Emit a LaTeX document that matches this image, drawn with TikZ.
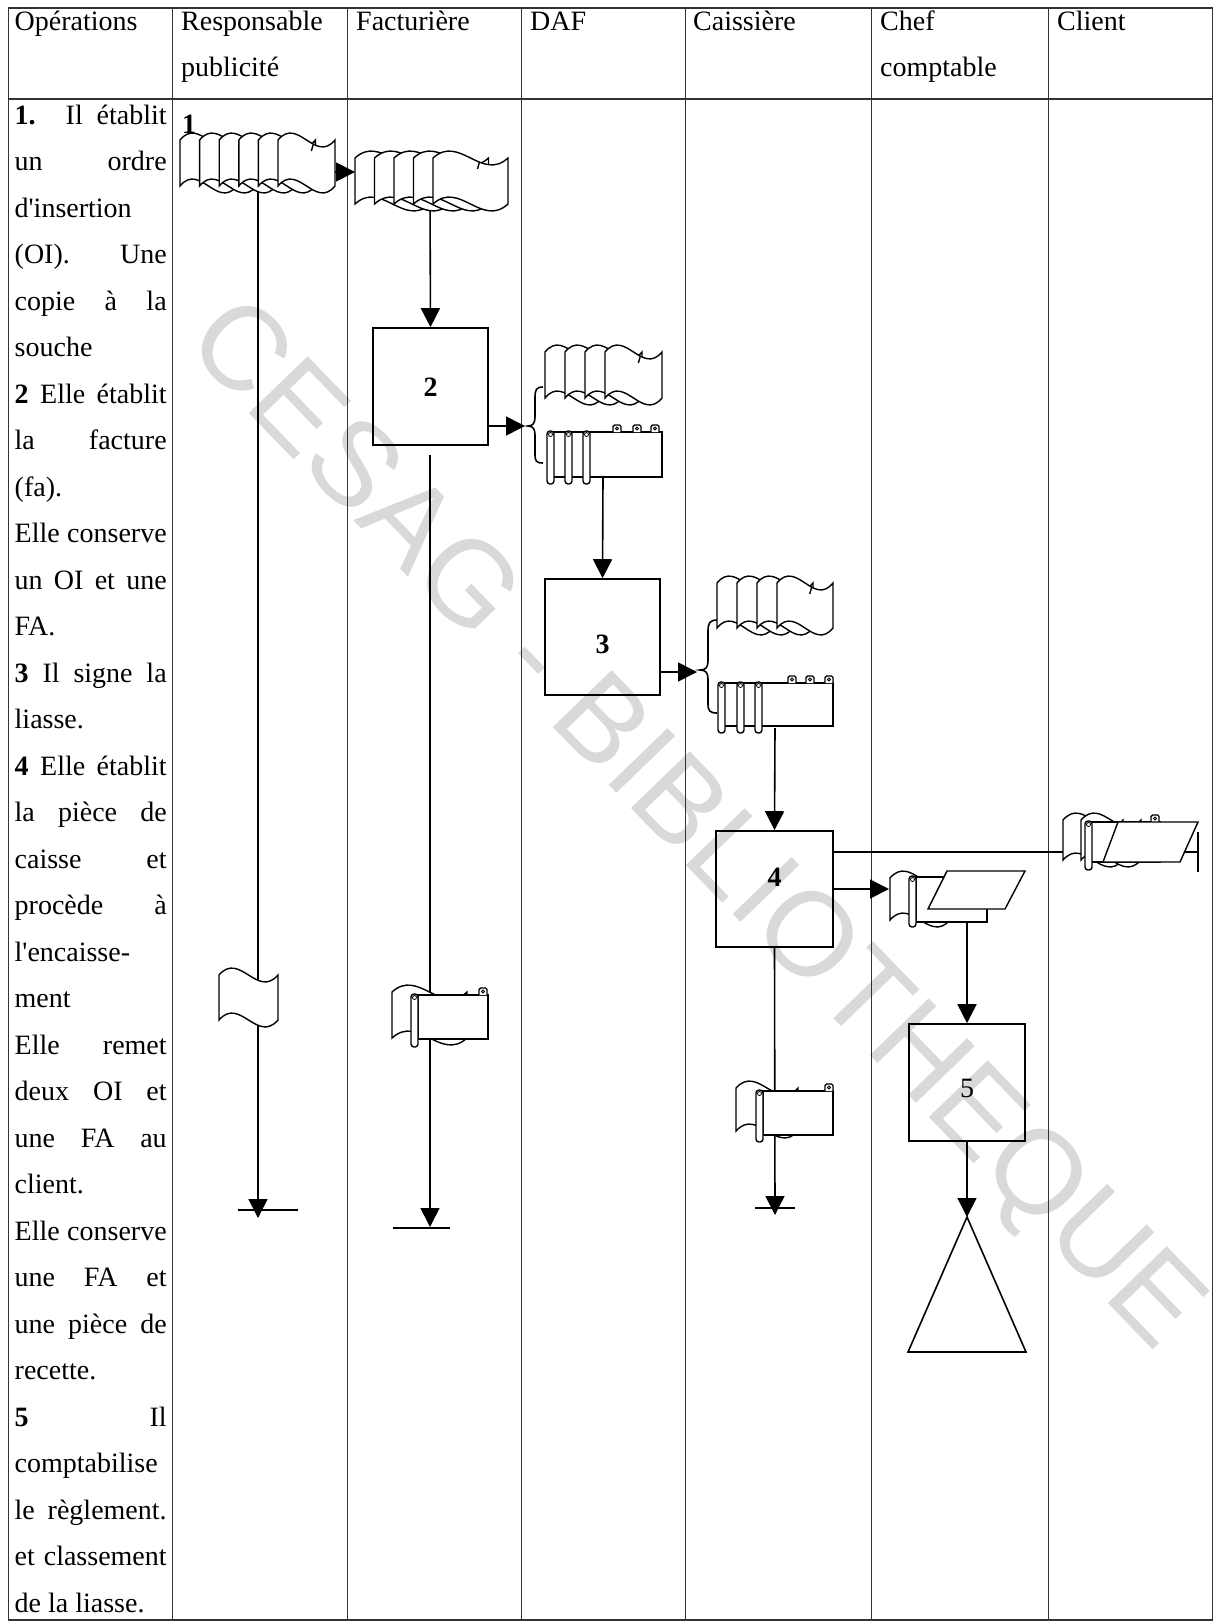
\documentclass[tikz,border=0pt]{standalone}
\usepackage{fontspec}
\setmainfont{Liberation Serif}
\newfontfamily\wmfont{Liberation Sans}
\usetikzlibrary{arrows.meta}

\newcommand\flagdoc[4]{% x y w h
  \filldraw[docline] ({#1},{#2}) -- ({#1},{#2+#4})
    .. controls ({#1+0.35*#3},{#2+#4-24}) and ({#1+0.65*#3},{#2+#4+24}) .. ({#1+#3},{#2+#4})
    -- ({#1+#3},{#2})
    .. controls ({#1+0.65*#3},{#2+24}) and ({#1+0.35*#3},{#2-24}) .. ({#1},{#2}) -- cycle;}
\newcommand\docstack[6]{% x y w h n dx
  \foreach \k in {1,...,#5}{\flagdoc{#1+(\k-1)*#6}{#2}{#3}{#4}}
  \draw[docline] ({#1+(#5-1)*#6+0.62*#3},{#2+4}) -- ++(-2,7);}
\newcommand\ledgerbox[4]{% x y w h
  \filldraw[docline] ({#1},{#2}) rectangle ({#1+#3},{#2+#4});}
\newcommand\ledgerring[3]{% x ytop ybottom
  \filldraw[docline, rounded corners=3pt] ({#1},{#2}) rectangle ({#1+7},{#3});
  \draw[line width=0.8pt] ({#1+3.5},{#2+3.5}) circle (2);}
\newcommand\ledgertab[2]{% xcenter ytop
  \filldraw[docline, rounded corners=1.5pt] ({#1-4},{#2}) -- ({#1-4},{#2-7}) -- ({#1+4},{#2-7}) -- ({#1+4},{#2});
  \draw[line width=0.8pt] ({#1},{#2-3.5}) circle (1.5);}
\newcommand\jstline[3]{\node[cell] (#1) at (14.5,#2) {\makebox[152pt][s]{#3}};}
\newcommand\lftline[3]{\node[cell] (#1) at (14.5,#2) {#3};}

\begin{document}
\begin{tikzpicture}[x=1pt,y=-1pt,
  grid/.style={line width=1.2pt, black!80},
  conn/.style={line width=1.6pt, black},
  arr/.style={conn, -{Triangle[length=19pt,width=19pt]}},
  docline/.style={line width=1.4pt, black, fill=white},
  procbox/.style={draw, line width=1.6pt, inner sep=0pt},
  cell/.style={anchor=base west, inner sep=0pt, font=\fontsize{28}{34}\selectfont},
  num/.style={inner sep=0pt, font=\fontsize{28}{34}\selectfont\bfseries},
  wm/.style={inner sep=0pt, text=black!15, font=\wmfont\fontsize{119}{119}\selectfont}]
\useasboundingbox (0,0) rectangle (1217,1622);
\fill[white] (0,0) rectangle (1217,1622);

% watermark
\node[wm, rotate=-46] (wmark) at (692,828) {CESAG - BIBLIOTHEQUE};

% table
\draw[grid] (8.3,8) rectangle (1212.5,1620);
\draw[grid] (8.3,99) -- (1212.5,99);
\foreach \xx in {172.8,347.7,521.6,685.1,871.4,1048.4}
  \draw[grid] (\xx,8) -- (\xx,1620);

% header
\node[cell] (h1) at (14.5,30) {Opérations};
\node[cell] (h2) at (181,30) {Responsable};
\node[cell] (h2b) at (181,76) {publicité};
\node[cell] (h3) at (356,30) {Facturière};
\node[cell] (h4) at (530,30) {DAF};
\node[cell] (h5) at (693,30) {Caissière};
\node[cell] (h6) at (880,30) {Chef};
\node[cell] (h6b) at (880,76) {comptable};
\node[cell] (h7) at (1057,30) {Client};

% operations column
\jstline{t1}{124}{\textbf{1.} Il établit}
\jstline{t2}{170.5}{un ordre}
\lftline{t3}{217}{d\textquotesingle insertion}
\jstline{t4}{263.5}{(OI). Une}
\jstline{t5}{310}{copie à la}
\lftline{t6}{356.5}{souche}
\jstline{t7}{403}{\textbf{2} Elle établit}
\jstline{t8}{449.5}{la facture}
\lftline{t9}{496}{(fa).}
\jstline{t10}{542.5}{Elle conserve}
\jstline{t11}{589}{un OI et une}
\lftline{t12}{635.5}{FA.}
\jstline{t13}{682}{\textbf{3} Il signe la}
\lftline{t14}{728.5}{liasse.}
\jstline{t15}{775}{\textbf{4} Elle établit}
\jstline{t16}{821.5}{la pièce de}
\jstline{t17}{868}{caisse et}
\jstline{t18}{914.5}{procède à}
\lftline{t19}{961}{l\textquotesingle encaisse-}
\lftline{t20}{1007.5}{ment}
\jstline{t21}{1054}{Elle remet}
\jstline{t22}{1100.5}{deux OI et}
\jstline{t23}{1147}{une FA au}
\lftline{t24}{1193.5}{client.}
\jstline{t25}{1240}{Elle conserve}
\jstline{t26}{1286.5}{une FA et}
\jstline{t27}{1333}{une pièce de}
\lftline{t28}{1379.5}{recette.}
\jstline{t29}{1426}{\textbf{5} Il}
\lftline{t30}{1472.5}{comptabilise}
\jstline{t31}{1519}{le règlement.}
\jstline{t32}{1565.5}{et classement}
\lftline{t33}{1612}{de la liasse.}

% process boxes
\node[procbox, minimum width=115pt, minimum height=117pt] (b2) at (430.5,386.5) {};
\node[procbox, minimum width=115pt, minimum height=116pt] (b3) at (602.5,637) {};
\node[procbox, minimum width=117pt, minimum height=116pt] (b4) at (774.5,889) {};
\node[procbox, minimum width=116pt, minimum height=117pt] (b5) at (967,1082.5) {};
\node[num] (n1) at (189,124) {1};
\node[num] (n2) at (430.5,387) {2};
\node[num] (n3) at (602.5,644) {3};
\node[num] (n4) at (774.5,877) {4};
\node[num, font=\fontsize{28}{34}\selectfont] (n5) at (967,1088) {5};

% connector points
\coordinate (s1r) at (335,172);
\coordinate (s2l) at (355,172);
\coordinate (s1b) at (258,185);
\coordinate (e1) at (258,1218);
\coordinate (bar1a) at (238,1210);
\coordinate (bar1b) at (298,1210);
\coordinate (s2b) at (430,200);
\coordinate (f2) at (430,455);
\coordinate (e2) at (430,1227);
\coordinate (bar2a) at (393,1228);
\coordinate (bar2b) at (450,1228);
\coordinate (br1) at (525,426);
\coordinate (lg1) at (603,478);
\coordinate (br2) at (697,672);
\coordinate (lg2) at (775,728);
\coordinate (cl) at (1198,852);
\coordinate (cl1) at (1198,832);
\coordinate (cl2) at (1198,872);
\coordinate (ch) at (889,889);
\coordinate (e4) at (775,1215);
\coordinate (bar4a) at (755,1208);
\coordinate (bar4b) at (795,1208);
\coordinate (chb) at (967,922);
\coordinate (tri) at (967,1217);

% connectors
\draw[arr] (s1b) -- (e1);
\draw[conn] (bar1a) -- (bar1b);
\draw[arr] (s1r) -- (s2l);
\draw[arr] (s2b) -- (b2.north);
\draw[arr] (f2) -- (e2);
\draw[conn] (bar2a) -- (bar2b);
\draw[arr] (b2.east |- br1) -- (br1);
\draw[arr] (lg1) -- (b3.north);
\draw[arr] (b3.east |- br2) -- (br2);
\draw[arr] (lg2) -- (b4.north);
\draw[conn] (b4.east |- cl) -- (cl);
\draw[conn] (cl1) -- (cl2);
\draw[arr] (b4.east |- ch) -- (ch);
\draw[arr] (b4.south) -- (e4);
\draw[conn] (bar4a) -- (bar4b);
\draw[arr] (chb) -- (b5.north);
\draw[arr] (b5.south) -- (tri);

% braces
\draw[conn] (543,387) .. controls (536,387) and (535,390) .. (535,398) -- (535,417)
  .. controls (535,423) and (533,426) .. (528,426)
  .. controls (533,426) and (535,429) .. (535,435) -- (535,454)
  .. controls (535,461) and (536,463) .. (543,463);
\draw[conn] (717,620) .. controls (710,620) and (708,623) .. (708,631) -- (708,661)
  .. controls (708,667) and (706,670) .. (700,670)
  .. controls (706,670) and (708,673) .. (708,679) -- (708,704)
  .. controls (708,711) and (710,713) .. (717,713);

% triangle (archive)
\draw[line width=1.6pt] (tri) -- (1026,1352) -- (908,1352) -- cycle;

% documents: Responsable publicite
\docstack{180}{140}{57}{46}{6}{19.6}
\flagdoc{219}{975}{59}{45}

% Facturiere
\docstack{355}{158}{75}{46}{5}{19.5}
\flagdoc{392}{992}{75}{46}
\ledgerbox{418}{995}{70}{44}
\ledgerring{411}{994}{1047}
\ledgertab{483}{995}

% DAF
\docstack{545}{352}{57}{46}{4}{20}
\ledgerbox{550}{432}{112}{45}
\ledgerring{547}{431}{484}
\ledgerring{565}{431}{484}
\ledgerring{583}{431}{484}
\ledgertab{617}{432}
\ledgertab{637}{432}
\ledgertab{655}{432}

% Caissiere
\docstack{717}{583}{56}{45}{4}{20}
\ledgerbox{720}{683}{113}{43}
\ledgerring{718}{682}{733}
\ledgerring{737}{682}{733}
\ledgerring{755}{682}{733}
\ledgertab{792}{683}
\ledgertab{810}{683}
\ledgertab{829}{683}
\flagdoc{736}{1088}{62}{43}
\ledgerbox{763}{1091}{70}{44}
\ledgerring{756}{1090}{1142}
\ledgertab{829}{1091}

% Chef comptable
\flagdoc{890}{878}{60}{42}
\ledgerbox{916}{877}{71}{45}
\ledgerring{909}{876}{927}
\filldraw[docline] (947,871) -- (1025,871) -- (1005,909) -- (928,909) -- cycle;

% Client
\flagdoc{1063}{820}{60}{40}
\flagdoc{1081}{820}{60}{40}
\ledgerbox{1091}{822}{69}{40}
\ledgerring{1085}{821}{870}
\ledgertab{1155}{822}
\filldraw[docline] (1118,822) -- (1198,822) -- (1180,862) -- (1103,862) -- cycle;
\end{tikzpicture}
\end{document}
